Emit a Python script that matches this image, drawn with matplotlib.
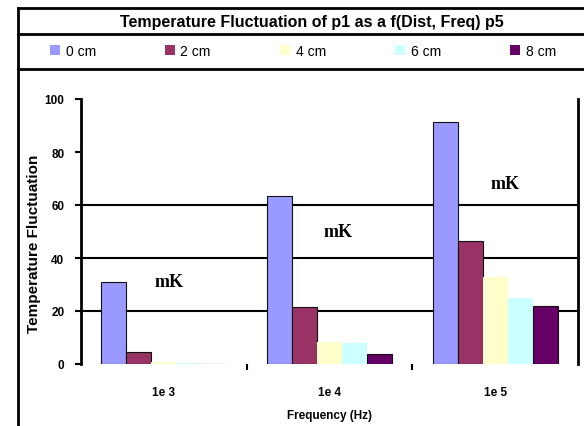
import matplotlib
matplotlib.use('Agg')
import matplotlib.pyplot as plt
from matplotlib.lines import Line2D
from matplotlib.patches import Patch
import numpy as np

# data
categories = ['1e 3', '1e 4', '1e 5']
series = ['0 cm', '2 cm', '4 cm', '6 cm', '8 cm']
d0 = [31, 63.5, 91.5]
d2 = [4.5, 21.5, 46.5]
d4 = [0.6, 8.3, 33]
d6 = [0.3, 8, 25]
d8 = [0, 3.7, 22]
values = [d0, d2, d4, d6, d8]
colors = ['#9999FF', '#993366', '#FFFFCC', '#CCFFFF', '#660066']
yticks = [0, 20, 40, 60, 80, 100]
unit_pos = [(0.03, 31), (1.05, 50), (2.06, 68)]

plt.rcParams['font.family'] = ['Liberation Sans', 'DejaVu Sans']

fig = plt.figure(figsize=(5.84, 4.27), dpi=100)
ax = fig.add_axes([81/584, 62/427, 497/584, 265/427])

x = np.arange(len(categories))
w = 0.151
for i, (vals, c) in enumerate(zip(values, colors)):
    ec = 'none' if i in (2, 3) else '#111111'
    ax.bar(x + (i - 2) * w, vals, width=w, color=c, edgecolor=ec, linewidth=0.8, zorder=3)

ax.set_xlim(-0.5, 2.5)
ax.set_ylim(0, 100)
ax.set_yticks(yticks)
ax.set_yticklabels([str(t) for t in yticks], fontsize=8.5, fontweight='bold')
for t in [20, 40, 60]:
    ax.axhline(t, color='black', linewidth=1.5, zorder=1)

ax.set_xticks(x)
ax.set_xticklabels(categories, fontsize=8.5, fontweight='bold')
ax.set_xticks([0.5, 1.5], minor=True)
ax.tick_params(axis='x', which='major', length=0, pad=16)
ax.tick_params(axis='x', which='minor', length=4, width=1.5, direction='out')
ax.tick_params(axis='y', length=4, width=1.5, pad=8)

for s in ['top', 'bottom']:
    ax.spines[s].set_visible(False)
for s in ['left', 'right']:
    ax.spines[s].set_linewidth(2)

ax.set_ylabel('Temperature Fluctuation', fontsize=11, fontweight='bold')
ax.yaxis.set_label_coords(-0.08, 0.457)
ax.set_xlabel('Frequency (Hz)', fontsize=8.5, fontweight='bold')
ax.xaxis.set_label_coords(0.501, -0.17)

for (ux, uy) in unit_pos:
    ax.text(ux, uy, 'mK', fontsize=13, fontweight='bold', family='Liberation Serif',
            ha='center', va='center', zorder=4)

# frame lines around title / legend
for yy in [9, 35, 70]:
    fig.add_artist(Line2D([18/584, 1], [1 - yy/427] * 2, color='black', linewidth=2))
fig.add_artist(Line2D([18/584, 18/584], [1 - 9/427, 0], color='black', linewidth=2))

fig.text(312/584, 1 - 22/427, 'Temperature Fluctuation of p1 as a f(Dist, Freq) p5',
         ha='center', va='center', fontsize=11.5, fontweight='bold')

handles = [Patch(facecolor=c, edgecolor='none') for c in colors]
fig.legend(handles, series, loc='center', bbox_to_anchor=(303/584, 1 - 52/427),
           ncol=5, frameon=False, fontsize=10, handlelength=0.7, handleheight=0.7,
           handletextpad=0.4, columnspacing=5.0)

fig.savefig('out.png', dpi=100)
